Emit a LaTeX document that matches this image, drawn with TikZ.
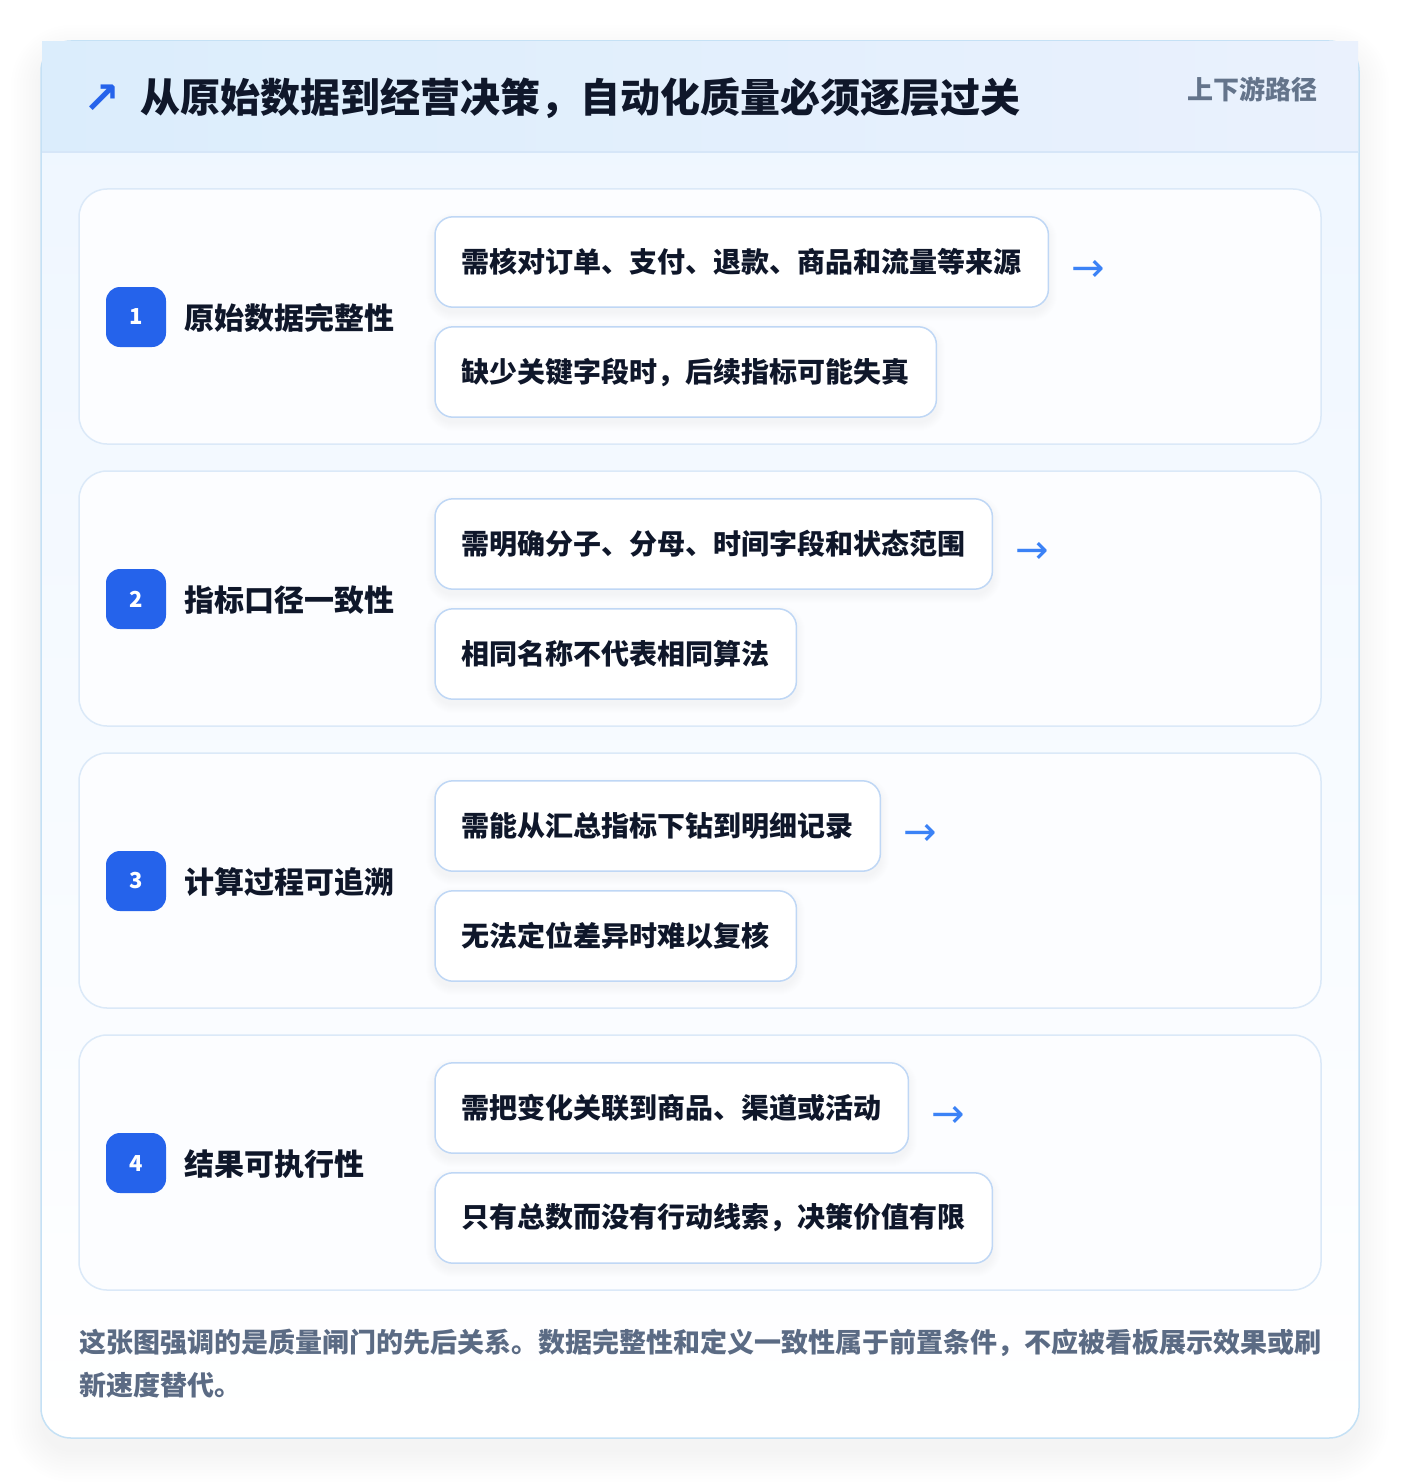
\documentclass[tikz,border=0pt]{standalone}
\usepackage{fontspec}
\setmainfont{Noto Sans CJK SC}
\newfontfamily\symfont{DejaVu Sans}
\usetikzlibrary{calc}
\definecolor{ink}{HTML}{0F172A}
\definecolor{badgeblue}{HTML}{2563EB}
\definecolor{arrowblue}{HTML}{3B82F6}
\definecolor{pillborder}{HTML}{BFD7F5}
\definecolor{rowborder}{HTML}{DBE9F8}
\definecolor{cardborder}{HTML}{C5E1F5}
\definecolor{cardtop}{HTML}{EEF6FF}
\definecolor{hdrL}{HTML}{DBEDFC}
\definecolor{hdrR}{HTML}{EAF1FD}
\definecolor{hdrline}{HTML}{D6E6F8}
\definecolor{graytext}{HTML}{64748B}
\definecolor{foottext}{HTML}{5B6B84}
\definecolor{rowfill}{HTML}{FCFDFF}
\pgfdeclarelayer{rowlayer}
\pgfdeclarelayer{pilllayer}
\pgfsetlayers{rowlayer,pilllayer,main}
\tikzset{
  badge/.style={fill=badgeblue, text=white, rounded corners=14, minimum width=60, minimum height=60, inner sep=0, font=\bfseries\fontsize{22}{22}\selectfont},
  lbl/.style={anchor=west, inner sep=0, text=ink, font=\bfseries\fontsize{30}{30}\selectfont},
  pill/.style={anchor=west, minimum height=90, inner xsep=26.5, inner ysep=0, text=ink, font=\bfseries\fontsize{28}{28}\selectfont},
  pillframe/.style={draw=pillborder, fill=white, line width=1.5, rounded corners=18},
  arr/.style={anchor=base west, inner sep=0, text=arrowblue, font=\symfont\fontsize{40}{40}\selectfont},
  rowbox/.style={rounded corners=28, fill=rowfill, draw=rowborder, line width=1.5},
}
\newcommand{\pillshadow}[1]{%
  \foreach \k in {1,...,9}{
    \fill[black, opacity=0.0055, rounded corners=18+\k] ($(#1.south west)+(-\k,\k+5)$) rectangle ($(#1.north east)+(\k,-\k+5)$);
  }
  \draw[pillframe] (#1.south west) rectangle (#1.north east);
}
\begin{document}
\begin{tikzpicture}[x=1pt,y=-1pt]
\useasboundingbox (0,0) rectangle (1400,1482);
\begin{pgfonlayer}{rowlayer}
\fill[white] (0,0) rectangle (1400,1482);
% card shadow
\foreach \i in {0,3,...,30}{
  \fill[black, opacity=0.005, rounded corners=30+\i] (41-\i,55-\i) rectangle (1359+\i,1452+\i);
}
% card
\draw[rounded corners=30, top color=cardtop, bottom color=white, draw=cardborder, line width=1.5] (41,41) rectangle (1359,1438);
% header
\fill[left color=hdrL, right color=hdrR] (42,42) rectangle (1358,152);
\draw[hdrline, line width=1.5] (42,152) -- (1358,152);
\end{pgfonlayer}
\node[inner sep=0, text=badgeblue, font=\symfont\bfseries\fontsize{44}{44}\selectfont] (icon) at (102,99) {↗};
\node[anchor=west, inner sep=0, text=ink, font=\bfseries\fontsize{40}{40}\selectfont] (title) at (140,98) {从原始数据到经营决策，自动化质量必须逐层过关};
\node[anchor=east, inner sep=0, text=graytext, font=\bfseries\fontsize{26}{26}\selectfont] (tag) at (1318,89) {上下游路径};
% rows
\foreach \n/\yy/\lab/\ta/\tb in {
  1/189/原始数据完整性/需核对订单、支付、退款、商品和流量等来源/缺少关键字段时，后续指标可能失真,
  2/471/指标口径一致性/需明确分子、分母、时间字段和状态范围/相同名称不代表相同算法,
  3/753/计算过程可追溯/需能从汇总指标下钻到明细记录/无法定位差异时难以复核,
  4/1035/结果可执行性/需把变化关联到商品、渠道或活动/只有总数而没有行动线索，决策价值有限}{
  \begin{pgfonlayer}{rowlayer}
  \draw[rowbox] (79,\yy) rectangle (1321,\yy+255);
  \end{pgfonlayer}
  \node[badge] (b\n) at (136,\yy+128) {\n};
  \node[lbl] (l\n) at (184,\yy+129) {\lab};
  \node[pill] (p\n a) at (435,\yy+73) {\ta};
  \node[pill] (p\n b) at (435,\yy+183) {\tb};
  \begin{pgfonlayer}{pilllayer}
  \pillshadow{p\n a}
  \pillshadow{p\n b}
  \end{pgfonlayer}
  \node[arr] (a\n) at ($(p\n a.east)+(23,19)$) {→};
}
% footer
\node[anchor=west, inner sep=0, text=foottext, font=\bfseries\fontsize{27}{27}\selectfont] (foot1) at (79,1343) {这张图强调的是质量闸门的先后关系。数据完整性和定义一致性属于前置条件，不应被看板展示效果或刷};
\node[anchor=west, inner sep=0, text=foottext, font=\bfseries\fontsize{27}{27}\selectfont] (foot2) at (79,1385) {新速度替代。};
\end{tikzpicture}
\end{document}
